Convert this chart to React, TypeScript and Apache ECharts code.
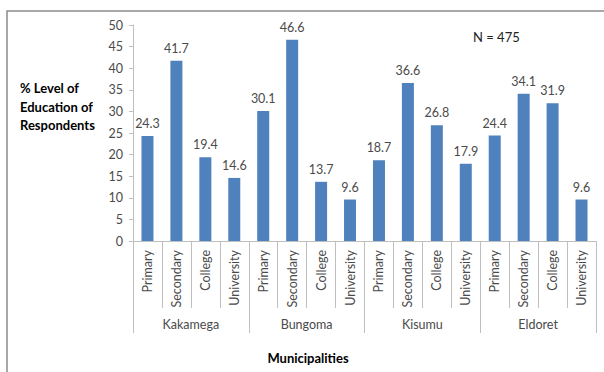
import React, { useEffect, useRef } from "react";
import * as echarts from "echarts";

const levels = ["Primary", "Secondary", "College", "University"];
const municipalities = ["Kakamega", "Bungoma", "Kisumu", "Eldoret"];
const kakamega = [24.3, 41.7, 19.4, 14.6];
const bungoma = [30.1, 46.6, 13.7, 9.6];
const kisumu = [18.7, 36.6, 26.8, 17.9];
const eldoret = [24.4, 34.1, 31.9, 9.6];
const yTicks = { min: 0, max: 50, interval: 5 };
const yTitle = "% Level of\nEducation of\nRespondents";
const xTitle = "Municipalities";
const note = "N = 475";

const FONT = "Lato, 'Noto Sans', sans-serif";

export default function App() {
  const ref = useRef<HTMLDivElement>(null);
  useEffect(() => {
    if (!ref.current) return;
    const chart = echarts.init(ref.current, undefined, { renderer: "svg" });
    const categories: string[] = [];
    municipalities.forEach(() => levels.forEach((l) => categories.push(l)));
    const values = [...kakamega, ...bungoma, ...kisumu, ...eldoret];
    chart.setOption({
      animation: false,
      textStyle: { fontFamily: FONT },
      grid: { left: 133, right: 8, top: 25, bottom: 131, containLabel: false },
      xAxis: [
        {
          type: "category",
          data: categories,
          position: "bottom",
          axisLine: { show: true, lineStyle: { color: "#bfbfbf", width: 1 } },
          axisTick: { show: true, interval: 0, length: 67, lineStyle: { color: "#bfbfbf" } },
          axisLabel: {
            interval: 0,
            rotate: 90,
            margin: 9,
            color: "#4a4a4a",
            fontSize: 12.5,
            fontFamily: FONT,
          },
        },
        {
          type: "category",
          data: municipalities,
          position: "bottom",
          axisLine: { show: false },
          axisTick: { show: true, interval: 0, length: 92, lineStyle: { color: "#bfbfbf" } },
          axisLabel: {
            interval: 0,
            margin: 77,
            color: "#4a4a4a",
            fontSize: 12.5,
            fontFamily: FONT,
          },
        },
      ],
      yAxis: {
        type: "value",
        min: yTicks.min,
        max: yTicks.max,
        interval: yTicks.interval,
        splitLine: { show: false },
        axisLine: { show: true, lineStyle: { color: "#bfbfbf" } },
        axisTick: { show: true, length: 4, lineStyle: { color: "#bfbfbf" } },
        axisLabel: { margin: 10, color: "#4a4a4a", fontSize: 12.5, fontFamily: FONT },
      },
      series: [
        {
          type: "bar",
          xAxisIndex: 0,
          data: values,
          barWidth: 12,
          itemStyle: { color: "#4f81bd" },
          label: {
            show: true,
            position: "top",
            distance: 6,
            color: "#4a4a4a",
            fontSize: 12.5,
            fontFamily: FONT,
            formatter: (p: any) => Number(p.value).toFixed(1),
          },
        },
      ],
      graphic: [
        {
          type: "rect",
          shape: { x: 7, y: 11, width: 800, height: 600 },
          style: { fill: "none", stroke: "#8c8c8c", lineWidth: 1.5 },
          silent: true,
        },
        {
          type: "text",
          x: 20,
          y: 79,
          style: {
            text: yTitle,
            fontFamily: FONT,
            fontWeight: "bold",
            fontSize: 13,
            lineHeight: 18.5,
            fill: "#000",
            textAlign: "left",
            textVerticalAlign: "top",
          },
        },
        {
          type: "text",
          x: 308,
          y: 358,
          style: {
            text: xTitle,
            fontFamily: FONT,
            fontWeight: "bold",
            fontSize: 13,
            fill: "#000",
            textAlign: "center",
            textVerticalAlign: "middle",
          },
        },
        {
          type: "text",
          x: 473,
          y: 37,
          style: {
            text: note,
            fontFamily: FONT,
            fontWeight: "normal",
            fontSize: 13,
            fill: "#222",
            textAlign: "left",
            textVerticalAlign: "middle",
          },
        },
      ],
    });
    return () => chart.dispose();
  }, []);
  return (
    <div
      ref={ref}
      style={{ position: "fixed", left: 0, top: 0, width: 604, height: 372, background: "#fff" }}
    />
  );
}
